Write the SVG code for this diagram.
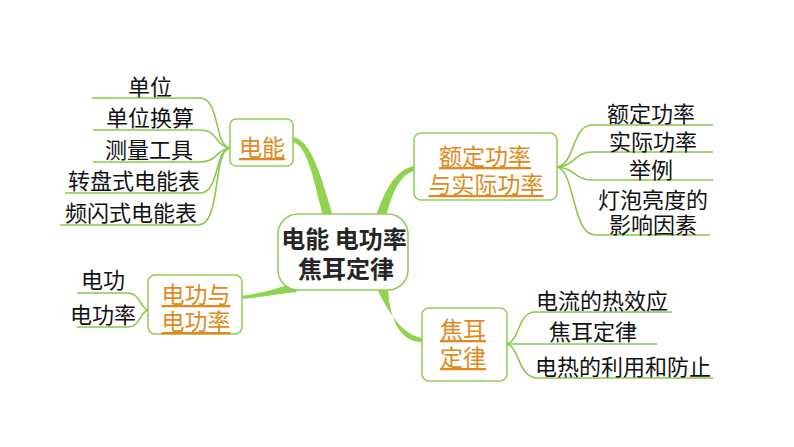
<svg xmlns="http://www.w3.org/2000/svg" width="794" height="447" viewBox="0 0 794 447">
<style>
text{font-family:"Noto Sans CJK SC","Noto Sans",sans-serif;text-anchor:middle}
.leaf{font-size:22px;fill:#111}
.br{font-size:23px;fill:#E08A1E;text-decoration:underline}
.ctr{font-size:24px;font-weight:bold;fill:#262626}
.box{fill:#fff;stroke:#92CF5A;stroke-width:1.6}
.main{fill:#8FD34E}
.thin{fill:none;stroke:#8CC84B;stroke-width:1.6}
</style>
<rect width="794" height="447" fill="#fff"/>
<g id="connectors">
<path class="main" d="M293,137 C312,140 322,180 333,216 L323,216 C314,182 308,146 293,142 Z"/>
<path class="main" d="M376,216 C385,190 395,170 414,166 L414,171 C399,175 392,195 386,216 Z"/>
<path class="main" d="M242,296 C260,293 275,290 292,283 L297,292 C278,294 262,297 242,299 Z"/>
<path class="main" d="M377,289 C390,315 403,335 422,338 L422,342 C400,342 390,320 388,289 Z"/>
<path class="thin" d="M230,148 C214,146 220,98 200,98 H92"/>
<path class="thin" d="M230,148 C215,146 218,130 200,130 H93"/>
<path class="thin" d="M230,148 C215,150 218,162 200,162 H93"/>
<path class="thin" d="M230,148 C214,150 220,193 200,193 H65"/>
<path class="thin" d="M230,148 C212,150 222,225 198,225 H60"/>
<path class="thin" d="M557,167 C575,165 572,125 592,125 H713"/>
<path class="thin" d="M557,167 C575,166 575,152 592,152 H713"/>
<path class="thin" d="M557,167 C575,168 575,180 592,180 H713"/>
<path class="thin" d="M557,167 C575,170 572,235 595,235 H710"/>
<path class="thin" d="M148,310 C140,308 140,293 128,293 H77"/>
<path class="thin" d="M148,310 C140,312 140,327 128,327 H77"/>
<path class="thin" d="M507,344 C520,340 518,312 535,312 H672"/>
<path class="thin" d="M507,344 H657"/>
<path class="thin" d="M507,344 C520,348 518,378 538,378 H713"/>
</g>
<g id="center">
<rect class="box" x="278" y="214" width="130" height="76" rx="20" stroke-width="2.2"/>
<text class="ctr" x="344" y="248">电能 电功率</text>
<text class="ctr" x="346" y="278">焦耳定律</text>
</g>
<g id="dianneng">
<rect class="box" x="230" y="119" width="63" height="47" rx="6"/>
<text class="br" x="262" y="156">电能</text>
</g>
<g id="eding">
<rect class="box" x="414" y="133" width="143" height="67" rx="7"/>
<text class="br" x="485" y="165">额定功率</text>
<text class="br" x="486" y="193">与实际功率</text>
</g>
<g id="diangong">
<rect class="box" x="148" y="275" width="94" height="59" rx="7"/>
<text class="br" x="196" y="303">电功与</text>
<text class="br" x="196" y="330">电功率</text>
</g>
<g id="jiaoer">
<rect class="box" x="422" y="308" width="85" height="73" rx="7"/>
<text class="br" x="463" y="338">焦耳</text>
<text class="br" x="463" y="366">定律</text>
</g>
<g id="leaves">
<text class="leaf" x="150" y="95">单位</text>
<text class="leaf" x="150" y="126">单位换算</text>
<text class="leaf" x="149" y="158">测量工具</text>
<text class="leaf" x="134" y="189">转盘式电能表</text>
<text class="leaf" x="131" y="221">频闪式电能表</text>
<text class="leaf" x="651" y="122">额定功率</text>
<text class="leaf" x="653" y="150">实际功率</text>
<text class="leaf" x="651" y="178">举例</text>
<text class="leaf" x="653" y="208">灯泡亮度的</text>
<text class="leaf" x="653" y="233">影响因素</text>
<text class="leaf" x="103" y="288">电功</text>
<text class="leaf" x="103" y="323">电功率</text>
<text class="leaf" x="602" y="309">电流的热效应</text>
<text class="leaf" x="593" y="340">焦耳定律</text>
<text class="leaf" x="623" y="375">电热的利用和防止</text>
</g>
</svg>
